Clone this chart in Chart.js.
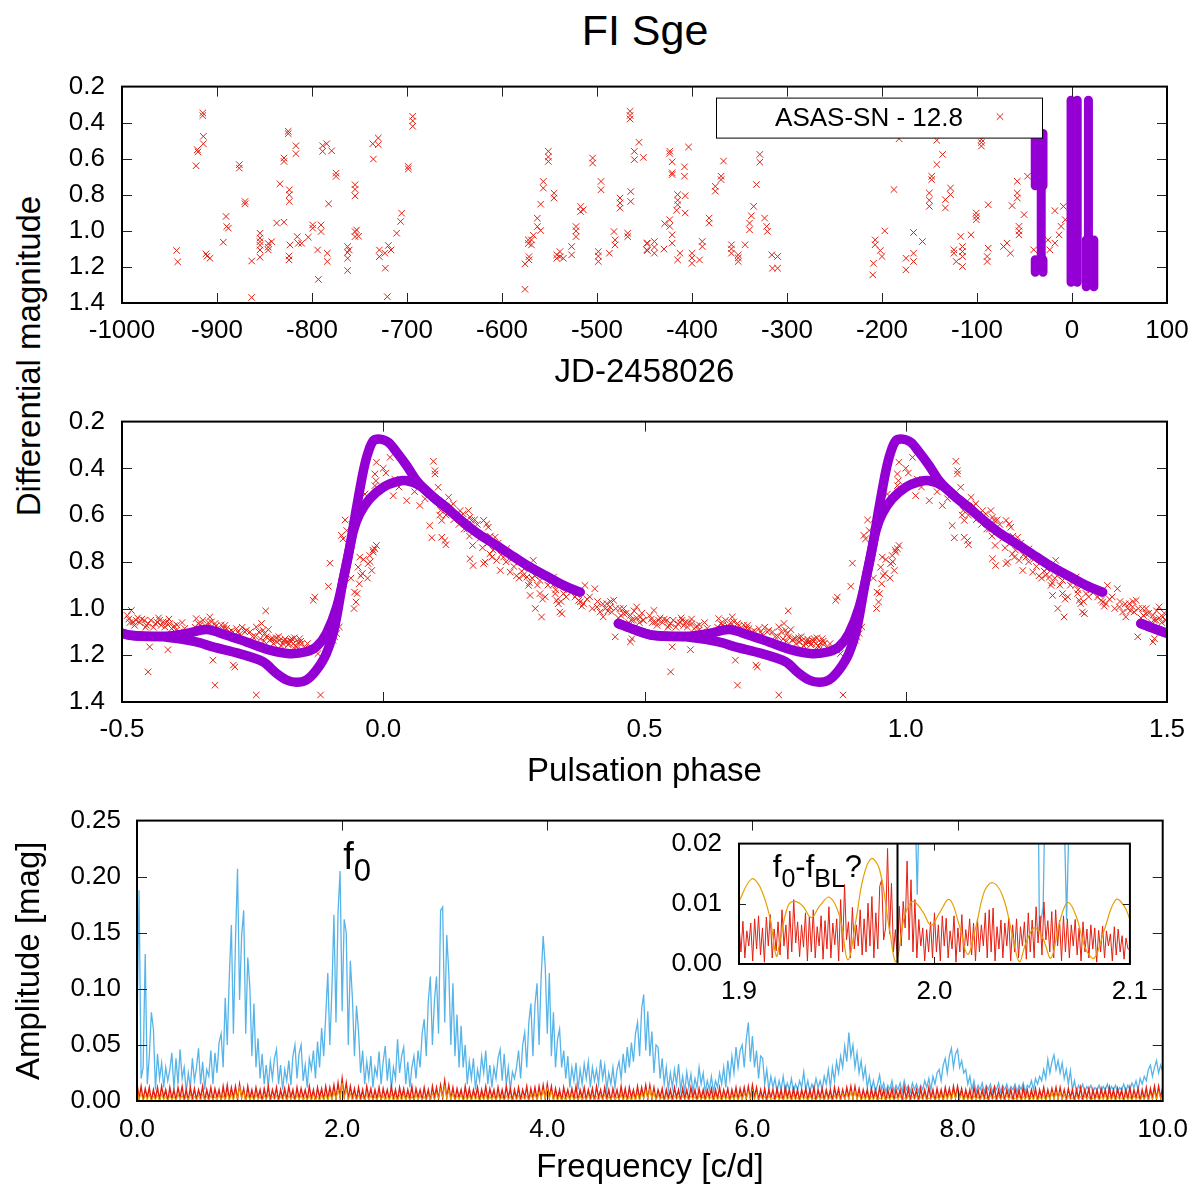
<!DOCTYPE html>
<html>
<head>
<meta charset="utf-8">
<script src="https://cdn.jsdelivr.net/npm/chart.js@4.4.1/dist/chart.umd.min.js"></script>
<style>
  body { margin: 0; background: #fff; width: 1201px; height: 1192px; position: relative; overflow: hidden;
         font-family: "Liberation Sans", Arial, sans-serif; }
  canvas { position: absolute; }
  #title { position: absolute; left: 445px; width: 400px; top: 8px; text-align: center; font-size: 43px; line-height: 44px; }
  #ylab { position: absolute; left: 29px; top: 356px; transform: translate(-50%, -50%) rotate(-90deg);
          white-space: nowrap; font-size: 33px; }
</style>
</head>
<body>
<div id="title">FI Sge</div>
<div id="ylab">Differential magnitude</div>
<canvas id="c1" width="1201" height="339" style="left:0;top:54px"></canvas>
<canvas id="c2" width="1201" height="403" style="left:0;top:389px"></canvas>
<canvas id="c3" width="1201" height="399" style="left:0;top:789px"></canvas>
<canvas id="c4" width="520" height="199" style="left:640px;top:811px"></canvas>
<script>
// ---- panel 1: ASAS-SN light curve (JD-2458026, mag - 12.8)
const asasJD = [-942.5,-941.4,-922,-920.7,-920,-915,-915,-914.4,-914.4,-911.6,-910.5,-907.4,-893.4,-890.5,-889.8,-888,
  -876.5,-876.5,-870.5,-870.5,-863.5,-863.5,-854.7,-854.7,-854.7,-854.7,-854.7,-854.7,-846,-846,-846,-842.5,-837.2,
  -833.7,-829.5,-829.5,-829.5,-825,-825,-824.2,-824.2,-823.9,-823.9,-823.9,-823.2,-816.9,-816.9,-815.5,-814.4,-810.9,
  -803.9,-799.3,-799.3,-794.1,-793.3,-790.5,-790.5,-788.8,-788.8,-784.6,-783.9,-783.9,-782.5,-779.3,-774.7,-774.7,
  -762.5,-762.5,-762.5,-762.5,-760.8,-754.7,-754.7,-754.7,-754.7,-754.7,-753,-751,-736.1,-735.4,-730.2,-730.2,-729.1,
  -729.1,-723.2,-722.8,-720.7,-719.6,-716.8,-710.9,-706.7,-705.6,-698.6,-698.6,-694,-694,-694,
  -575.8,-575.8,-571.6,-571.6,-572.3,-572.3,-569,-569,-567,-562.8,-562.8,-559.3,-559.3,-556.5,-556.5,-551.2,-551.2,
  -551.2,-545.2,-545.2,-542.4,-542.4,-539,-539,-535.4,-526.7,-526.7,-522.1,-522.1,-522.1,-517.2,-517.2,-514.4,-504.6,
  -504.6,-498.6,-498.6,-498.6,-495.8,-495.8,-487,-482.1,-481,-481,-475.8,-475.8,-475.8,-467.7,-467.7,-465.2,-465.2,
  -465.2,-464.5,-464.5,-460.7,-460.7,-455.8,-451.2,-447.7,-447.7,
  -446.8,-446.8,-439.6,-439.6,-439.6,-429.5,-428.8,-423.4,-423.4,-423.4,-423.4,-420.9,-420.9,-420.9,-420.9,-420.9,
  -416.2,-415.1,-415.1,-415.1,-415.1,-412.6,-407.9,-407.9,-407.2,-407.2,-403.6,-400,-400,-400,-392.1,-389.2,-389.2,
  -382,-382,-375.5,-375.5,-369.4,-369.4,-366.8,-358.5,-358.5,-358.5,-351.3,-351.3,-351.3,-344.1,-339.4,-339.4,-337.6,
  -335.1,-332.2,-328.6,-328.6,-323.6,-321.4,-320.7,-316,-315.3,-309.9,-309.9,
  -209,-209.7,-207.2,-207.2,-201.8,-200,-197.1,-187.4,-182,-174.7,-174.7,-166.8,-166.8,-166.8,-157.4,-150.2,-150.2,
  -150.2,-147.7,-147.7,-142.3,-142.3,-136.2,-133.3,-133.3,-127.9,-127.9,-124.3,-124.3,-121.8,-117.1,-115.3,-115.3,
  -115.3,-115.3,-106.3,-100.8,-100.8,-100.8,-95.4,-95.4,-95.4,-88.2,-88.2,-89.3,-89.3,-72,-68.4,-64.8,-63,-57.6,-57.6,
  -57.6,-55.8,-55.8,-55.8,-50.4,-46.8,-40.3,-25.2,-23.4,-18,-18,-13.6,-11.5,-9,-7.1];
const asasMag = [1.109,1.172,0.639,0.55,0.562,0.346,0.361,0.476,0.517,1.128,1.14,1.152,1.063,0.92,0.976,0.985,
  0.633,0.652,0.837,0.85,1.167,1.369,1.013,1.04,1.06,1.08,1.106,1.146,1.07,1.09,1.106,1.06,0.957,
  0.739,0.596,0.615,0.952,0.448,0.461,1.139,1.161,0.772,0.8,0.837,1.078,0.528,0.572,1.032,1.069,1.069,
  1.035,0.967,0.985,1.106,1.269,0.967,1.004,0.528,0.559,0.517,1.124,1.17,0.85,0.556,0.68,0.698,
  1.087,1.12,1.152,1.22,1.106,0.744,0.77,0.806,1.004,1.032,0.995,1.03,0.517,0.602,0.485,0.522,1.106,
  1.143,1.124,1.207,1.365,1.081,1.106,1.013,0.948,0.902,0.643,0.657,0.365,0.39,0.42,
  1.324,1.183,1.143,1.161,1.05,1.07,1.05,1.078,1.025,0.93,0.976,0.852,0.998,0.726,0.763,0.559,0.59,
  0.615,0.791,0.818,1.133,1.152,1.115,1.143,1.152,1.087,1.133,0.976,1.0,1.032,0.865,0.893,0.883,0.596,
  0.624,1.115,1.14,1.17,0.726,0.772,1.124,1.004,1.05,1.078,0.818,0.845,0.874,1.013,1.032,0.337,0.36,
  0.38,0.782,0.837,0.559,0.605,0.509,0.593,1.069,1.106,
  1.068,1.109,1.059,1.09,1.124,1.101,0.96,0.558,0.571,0.938,0.975,0.617,0.678,0.688,1.022,1.068,
  0.886,0.799,0.83,0.855,1.161,1.124,0.645,0.697,0.805,0.901,0.535,1.124,1.15,1.18,1.161,1.059,1.087,
  0.929,0.957,0.753,0.78,0.697,0.716,0.613,1.077,1.1,1.124,1.133,1.15,1.17,1.077,0.957,0.994,0.916,
  0.864,0.743,0.576,0.619,0.929,0.975,1.003,1.133,1.207,1.207,1.142,
  1.18,1.244,1.05,1.077,1.109,1.142,1.0,0.771,0.489,1.152,1.216,1.009,1.124,1.17,1.059,0.79,0.83,
  0.864,0.697,0.716,0.632,0.498,0.576,0.827,0.873,0.762,0.799,1.105,1.124,1.17,1.031,1.087,1.115,
  1.142,1.198,1.022,0.901,0.92,0.938,0.493,0.51,0.53,0.855,1.096,1.142,1.17,1.087,1.068,1.124,0.86,0.725,0.79,
  0.818,0.975,1.0,1.022,0.91,0.697,1.105,1.05,1.105,1.068,0.888,1.022,0.975,0.864,0.938];

// purple (dense follow-up photometry) drawn as vertical bands: JD, top mag, bottom mag
const bandJD     = [-38.7, -30.5, -32.4, -38.7, -30.5, -1.0, 5.5, 17.3, 15.0, 23.0];
const bandTop    = [0.46, 0.46, 0.75, 1.16, 1.16, 0.275, 0.275, 0.275, 1.05, 1.05];
const bandBottom = [0.75, 0.75, 1.16, 1.23, 1.23, 1.285, 1.285, 1.05, 1.31, 1.31];

// ---- panel 2: phased light curve (one cycle, plotted at phase and phase+1)
const phasedPhase = [-0.482,-0.479,-0.476,-0.473,-0.457,-0.453,-0.45,-0.428,-0.425,-0.421,-0.418,-0.409,-0.405,-0.396,
  -0.447,-0.45,-0.412,-0.358,-0.354,-0.332,-0.329,-0.322,-0.303,-0.3,-0.281,-0.278,-0.326,-0.322,-0.287,-0.284,-0.262,
  -0.243,-0.243,-0.233,-0.23,-0.227,-0.225,-0.224,-0.217,-0.211,-0.204,-0.198,-0.192,-0.185,-0.179,-0.172,-0.166,-0.16,
  -0.156,-0.166,-0.134,-0.131,-0.12,-0.125,-0.105,-0.102,-0.096,-0.093,-0.089,-0.084,-0.08,-0.077,-0.073,-0.07,-0.056,
  -0.052,-0.05,-0.046,-0.048,-0.045,-0.029,-0.026,-0.022,-0.019,-0.016,-0.013,-0.035,-0.016,-0.014,-0.016,-0.013,0.013,
  0.019,0.022,0.045,0.07,0.096,0.099,0.099,0.089,0.093,0.112,0.112,0.118,0.12,0.105,0.125,0.134,0.147,0.153,0.163,
  0.166,0.169,0.166,0.172,0.171,0.192,0.198,0.201,0.204,0.208,0.214,0.192,0.195,0.217,0.224,0.236,0.243,0.268,0.275,
  0.278,0.281,0.287,0.291,0.3,0.303,0.326,0.329,0.332,0.335,0.338,0.342,0.345,0.367,0.374,0.377,0.383,0.386,0.405,
  0.409,0.415,0.421,0.428,0.434,0.437,0.441,0.444,0.453,0.46,0.473,0.479,0.485,0.492,0.498,0.473,0.476,
  -0.49,-0.487,-0.466,-0.462,-0.44,-0.436,-0.43,-0.415,-0.4,-0.39,-0.38,-0.37,-0.345,-0.34,-0.315,-0.31,-0.295,-0.27,
  -0.255,-0.25,-0.238,-0.22,-0.21,-0.2,-0.195,-0.188,-0.182,-0.176,-0.17,-0.163,-0.15,
  -0.06,-0.04,-0.03,0.0,0.005,0.03,0.06,0.08,0.108,0.13,0.14,0.155,0.175,0.18,0.2,0.205,0.22,0.23,0.25,0.255,0.26,
  0.27,0.285,0.295,0.31,0.315,0.32,0.35,0.36,0.39,0.4,0.41,0.425,0.445,0.45,0.465,0.47,0.48,0.49,0.495,
  -0.485,-0.47,-0.455,-0.445,-0.432,-0.41,-0.395,-0.385,-0.36,-0.35,-0.335,-0.32,-0.305,-0.29,-0.275,-0.265,-0.245,
  -0.235,-0.228,-0.215,-0.205,-0.19,-0.18,-0.175,-0.168,-0.158,-0.145,-0.14,
  -0.062,-0.055,-0.043,-0.038,-0.025,-0.02,
  0.11,0.12,0.135,0.145,0.16,0.165,0.185,0.19,0.21,0.215,0.225,0.235,0.245,0.26,0.265,0.28,0.29,0.3,0.305,0.325,
  0.33,0.34,0.355,0.37,0.38,0.395,0.42,0.43,0.435,0.455,0.46,0.475,0.485,0.497];
const phasedMag = [1.008,1.057,1.072,1.05,1.05,1.072,1.064,1.05,1.072,1.057,1.079,1.064,1.086,1.093,
  1.164,1.271,1.176,1.043,1.064,1.036,1.057,1.064,1.072,1.086,1.086,1.1,1.221,1.328,1.242,1.25,1.093,
  1.37,1.079,1.064,1.093,1.107,1.01,1.121,1.136,1.129,1.143,1.136,1.15,1.143,1.136,1.15,1.164,1.129,
  1.15,1.178,0.965,0.951,1.37,1.193,0.905,0.806,1.136,1.121,1.107,1.079,0.687,0.702,0.621,0.666,1.0,
  0.972,0.936,0.894,0.823,0.78,0.808,0.773,0.837,0.759,0.744,0.73,0.51,0.424,0.453,0.474,0.374,0.353,
  0.517,0.446,0.538,0.559,0.37,0.41,0.424,0.645,0.697,0.623,0.695,0.709,0.727,0.481,0.524,0.552,0.581,0.595,0.581,
  0.609,0.623,0.787,0.816,0.73,0.623,0.638,0.652,0.766,0.78,0.695,0.808,0.801,0.794,0.837,0.744,0.844,0.858,0.865,
  0.901,0.944,0.794,1.0,0.936,1.036,0.865,0.936,0.965,0.979,1.015,1.022,0.936,0.951,0.965,0.972,0.979,0.901,0.915,
  0.993,1.015,1.036,0.979,0.993,1.015,0.965,1.121,1.0,1.022,1.029,1.05,0.993,1.036,1.05,1.143,1.129,
  1.03,1.045,1.06,1.045,1.08,1.065,1.04,1.06,1.075,1.1,1.085,1.11,1.05,1.075,1.09,1.07,1.1,1.08,
  1.1,1.12,1.1,1.09,1.15,1.12,1.16,1.13,1.155,1.14,1.125,1.145,1.17,
  0.64,0.85,0.87,0.4,0.42,0.48,0.5,0.53,0.6,0.56,0.6,0.66,0.62,0.64,0.72,0.69,0.72,0.78,0.82,0.86,0.8,
  0.83,0.87,0.9,0.95,0.9,0.88,0.95,0.93,0.96,1.0,0.97,1.0,1.0,1.04,1.02,1.06,1.01,1.06,1.02,
  1.06,1.04,1.08,1.05,1.06,1.045,1.07,1.06,1.08,1.07,1.06,1.075,1.085,1.095,1.11,1.1,1.12,
  1.13,1.14,1.13,1.125,1.14,1.15,1.13,1.16,1.14,1.15,1.18,
  0.87,0.93,0.86,0.79,0.8,0.75,
  0.58,0.6,0.62,0.64,0.66,0.69,0.7,0.74,0.75,0.73,0.77,0.8,0.79,0.87,0.84,0.89,0.86,0.88,0.96,0.9,
  0.92,0.97,0.92,0.94,0.99,0.95,0.98,1.01,0.97,1.03,1.0,1.05,1.04,1.05];

// purple dense branches (high and low amplitude), phase/mag
const branchHPhase = [-0.55,-0.52,-0.485,-0.421,-0.358,-0.326,-0.275,-0.23,-0.204,-0.185,-0.166,-0.147,-0.128,-0.109,
  -0.093,-0.077,-0.064,-0.051,-0.038,-0.029,-0.019,-0.006,0.01,0.026,0.045,0.064,0.089,0.121,0.153,0.185,0.217,0.249,
  0.281,0.313,0.345,0.377];
const branchHMag = [1.064,1.09,1.114,1.121,1.143,1.164,1.193,1.228,1.278,1.306,1.316,1.306,1.264,1.193,
  1.079,0.88,0.737,0.567,0.41,0.332,0.282,0.275,0.289,0.332,0.389,0.453,0.51,0.569,0.63,0.685,0.73,0.777,
  0.823,0.862,0.901,0.93];
const branchLPhase = [-0.55,-0.52,-0.485,-0.421,-0.377,-0.338,-0.3,-0.262,-0.217,-0.179,-0.147,-0.128,-0.109,-0.089,
  -0.07,-0.057,-0.045,-0.026,0.0,0.026,0.045,0.07,0.096,0.121];
const branchLMag = [1.064,1.09,1.114,1.119,1.107,1.09,1.114,1.143,1.178,1.193,1.185,1.164,1.107,0.993,
  0.808,0.666,0.595,0.531,0.481,0.457,0.453,0.474,0.524,0.569];

// ---- panel 3: amplitude spectra, 0..10 c/d every 0.02 c/d, values in mmag
const freqStep = 0.02;
const blueAmp = [
  60,188,20,30,131,15,40,79,64,10,42,20,34,12,30,18,28,43,10,38,15,46,20,30,8,25,12,38,18,30,47,15,35,10,28,22,45,15,43,25,52,60,30,92,50,111,157,60,142,207,
  90,147,170,60,128,102,40,87,30,56,20,42,15,32,12,35,20,38,46,15,32,10,28,18,36,14,40,50,20,42,50,18,32,12,38,28,45,20,53,30,65,40,76,114,50,98,166,70,168,205,
  80,162,150,50,125,92,40,85,62,25,45,15,35,20,40,12,30,22,44,15,35,49,18,38,10,30,20,55,25,40,48,15,35,12,30,40,20,45,30,60,73,40,89,111,50,90,111,60,170,173,
  70,148,114,50,105,40,77,30,67,30,50,15,35,20,38,10,28,18,40,25,45,15,32,12,30,20,38,46,18,42,14,30,10,26,20,30,45,20,50,61,30,70,87,40,86,105,50,110,147,120,
  60,114,40,79,30,55,64,30,45,20,40,12,30,18,34,10,28,15,33,20,35,12,30,18,28,15,37,20,32,10,25,15,30,12,28,35,20,42,25,48,30,52,35,60,70,40,82,95,45,80,
  40,62,25,50,48,20,38,15,30,10,25,12,28,15,33,10,22,8,26,12,24,8,20,12,30,15,25,8,18,10,22,8,18,12,25,15,30,12,36,20,40,25,48,30,45,50,30,55,70,35,
  58,30,45,20,40,38,15,28,10,22,12,20,8,18,10,22,8,16,10,20,8,15,10,18,12,26,10,18,8,15,10,20,12,18,10,22,15,28,12,30,18,35,25,40,30,49,35,61,40,50,
  30,43,25,36,20,30,12,22,10,18,8,15,23,10,16,8,14,10,18,8,14,10,16,8,18,10,14,8,16,10,15,8,14,10,18,12,20,10,22,15,25,28,18,32,38,25,40,47,30,42,
  46,30,36,25,28,15,22,10,18,8,14,10,16,8,14,10,15,8,13,10,16,8,14,10,15,8,13,10,15,8,14,10,16,8,14,12,18,10,20,15,22,18,28,20,37,25,35,41,28,36,
  25,34,20,28,15,27,10,18,8,14,10,15,8,13,10,14,8,12,10,14,8,13,10,15,8,13,10,14,8,12,10,15,8,14,10,16,12,18,10,20,15,22,18,28,32,22,30,36,25,32,
  26];
const redAmp = [
  16,2,13,1,11,3,12,0,10,2,12,1,13,3,10,0,12,2,10,1,12,3,13,1,10,0,12,2,11,1,10,3,13,0,10,2,12,1,11,3,10,0,13,2,14,1,12,3,13,1,
  15,3,11,0,13,2,10,1,12,3,10,0,11,2,13,1,10,3,12,0,10,2,11,1,13,3,10,0,12,2,11,3,10,1,13,2,10,0,12,3,11,1,13,2,12,3,14,2,16,3,
  20,4,16,2,13,3,11,1,12,2,10,0,13,3,11,1,10,2,12,0,11,3,10,1,13,2,10,0,12,3,11,1,10,2,13,0,11,3,10,1,12,2,10,0,13,3,12,2,14,3,
  18,3,14,2,12,1,11,3,10,0,13,2,11,1,10,3,12,0,10,2,13,1,11,3,10,0,12,2,10,1,13,3,11,0,10,2,12,1,10,3,13,0,11,2,12,1,13,3,14,2,
  15,3,13,1,11,2,10,0,12,3,10,1,11,2,13,0,10,3,12,1,10,2,11,0,13,3,10,1,12,2,10,0,11,3,10,1,13,2,11,0,12,3,10,1,13,2,12,3,14,2,
  14,2,12,1,10,3,11,0,10,2,10,1,12,3,10,0,11,2,10,1,12,3,10,0,11,2,10,1,10,3,11,0,10,2,12,1,10,3,11,0,10,2,12,1,11,3,12,2,13,2,
  14,3,12,1,10,2,11,0,10,3,10,1,11,2,10,0,12,3,10,1,11,2,10,0,10,3,11,1,10,2,12,0,10,3,11,1,10,2,10,0,12,3,11,1,10,2,12,3,13,2,
  13,2,11,1,10,3,10,0,11,2,10,1,12,3,10,0,10,2,11,1,10,3,10,0,12,2,11,1,10,3,10,0,11,2,10,1,12,3,10,0,11,2,10,1,12,3,11,2,13,3,
  13,3,11,1,10,2,10,0,12,3,10,1,10,2,11,0,10,3,12,1,10,2,11,0,10,3,10,1,11,2,10,0,12,3,10,1,10,2,11,0,10,3,12,1,10,2,11,3,12,2,
  12,2,10,1,11,3,10,0,10,2,12,1,10,3,11,0,10,2,10,1,11,3,10,0,12,2,10,1,11,3,10,0,10,2,12,1,10,3,11,0,10,2,12,1,11,3,13,2,13,3,
  12];
const orangeAmp = [
  11,1,7,0,5,1,6,0,4,1,5,0,6,1,4,0,5,1,4,0,6,1,5,0,4,1,6,0,4,1,5,0,6,1,4,0,5,1,4,0,6,1,5,0,7,1,6,0,8,2,
  13,2,8,0,6,1,5,0,6,1,4,0,5,1,6,0,4,1,5,0,4,1,6,0,5,1,4,0,6,1,5,0,4,1,5,0,6,1,4,0,5,1,6,0,7,1,8,2,10,3,
  16,3,11,1,7,0,6,1,5,0,4,1,6,0,5,1,4,0,6,1,5,0,4,1,6,0,4,1,5,0,6,1,5,0,4,1,6,0,5,1,4,0,6,1,7,0,8,2,11,3,
  14,2,10,1,7,0,5,1,6,0,4,1,5,0,6,1,4,0,5,1,6,0,4,1,5,0,6,1,4,0,5,1,4,0,6,1,5,0,4,1,5,0,6,1,7,0,8,2,10,2,
  12,2,9,1,6,0,5,1,4,0,5,1,6,0,4,1,5,0,4,1,6,0,5,1,4,0,5,1,6,0,4,1,5,0,4,1,6,0,5,1,4,0,5,1,7,0,7,2,10,2,
  11,2,8,0,6,1,4,0,5,1,4,0,5,1,4,0,5,1,4,0,5,1,4,0,5,1,4,0,5,1,4,0,5,1,4,0,5,1,4,0,5,1,6,0,6,1,7,2,9,2,
  10,1,8,0,5,1,4,0,5,1,3,0,5,1,4,0,6,1,4,0,5,1,3,0,5,1,4,0,5,1,3,0,5,1,4,0,6,1,4,0,5,1,6,0,7,1,7,1,9,2,
  9,1,7,0,4,1,5,0,4,1,5,0,3,1,5,0,4,1,5,0,4,1,6,0,3,1,5,0,4,1,5,0,4,1,6,0,3,1,5,0,4,1,6,0,6,1,7,1,8,2,
  9,2,6,0,5,1,4,0,5,1,4,0,6,1,3,0,5,1,4,0,5,1,4,0,6,1,4,0,3,1,5,0,4,1,5,0,4,1,6,0,4,1,5,0,6,1,8,1,8,2,
  8,1,7,0,5,1,3,0,5,1,4,0,5,1,4,0,3,1,5,0,4,1,6,0,4,1,5,0,4,1,3,0,5,1,4,0,5,1,4,0,5,1,6,0,7,1,8,2,9,2,
  8];

// ---- inset: 1.90..2.10 c/d, red every 0.001 c/d (mmag)
const insetStep = 0.001;
const insetRed = [
  6.5,2,7.1,1,5.5,3,6.8,0.5,7.5,2.5,8,1.5,6,0.3,7.8,3,8.2,1,5.8,2.2,7,
  1.5,9,3,6.5,0.8,8.8,2,10.7,3.5,7,1.2,6.5,2.8,8.5,0.5,7.9,2,9,1,6.2,
  3,8,0.8,7.2,2.5,9.5,1,6.8,3.2,7.5,0.5,10.7,2,13.2,4,7,1,9.4,2.5,6.5,
  3,9,1.5,7.5,2,10.1,3,11.2,1,8.5,2.5,12.9,14,4,6,19.2,5,13.4,2,5.7,
  1,9.6,3,10.4,6,17.1,4,14,2,10.7,1,7.4,3,6,0.5,5.7,2,7,1,8.5,
  2,6.5,0.5,8,3,7.6,1,5.5,2.5,8,0.3,6,2,8.2,1,5.7,3,7.5,1.5,6.8,
  0.5,7.5,2,6.5,3,8.5,1,9,2,9.3,0.5,6.2,2.5,7.3,1,6.8,3,7.6,0.5,6.5,
  2,7.5,1,6.2,3,7,0.8,8.5,2,7.3,1,9.5,3.5,8,1.5,10.3,4,7.2,2,8.7,
  1,9,3,7.3,0.5,8,2,7.5,1,6.5,3,7.4,1.5,6,0.5,7,2,5.8,1,6.5,
  2.5,6,0.3,5.6,2,6.3,1,5.5,3,5,0.5,6.2,1.5,5.8,2,4.7,0.8,4.3,2.5,2.4];
// inset orange (short data set, broad side lobes): freq / mmag
const insetOrangeF = [1.9,1.9063,1.9106,1.9157,1.9191,1.9208,1.925,1.9285,1.9327,1.937,1.9412,1.9463,1.9515,1.9557,
  1.9599,1.9634,1.9676,1.9719,1.977,1.9804,1.9847,1.9889,1.994,1.9983,2.0026,2.0077,2.0128,2.017,2.0213,2.0256,2.0298,
  2.0349,2.04,2.0434,2.0468,2.0511,2.0554,2.0596,2.0639,2.0681,2.0724,2.0775,2.0818,2.0869,2.0928,2.0971,2.1];
const insetOrangeA = [10.4,14.1,12.9,7.9,1.3,3.5,9.6,10.4,9.6,7.7,9.6,11.1,7.9,0.7,
  7.4,14.1,17.5,15.7,5.7,0.4,7.9,10.4,8.7,6.4,8.5,10.7,6.3,1.6,6.3,12.1,13.5,
  11.3,4.6,0.4,3.5,6.0,4.3,1.0,6.8,10.2,8.0,2.4,1.0,5.7,10.7,9.6,7.4];
// inset blue: only the dips below 0.02 mag are visible (freq / mmag)
const insetBlueF = [1.9898, 1.9912, 1.9924, null, 2.0530, 2.0537, 2.0556, 2.0567, null, 2.0660, 2.0676, 2.0693];
const insetBlueA = [30, 11.5, 30, null, 30, 5.5, 9.5, 30, null, 30, 7.4, 30];
const fblFreq = 1.981;

// ---------------------------------------------------------------
const FONT = '"Liberation Sans", Arial, sans-serif';
const RED = '#e51e10', PURPLE = '#9400d3', BLUE = '#56b4e9', ORANGE = '#e69f00';
Chart.defaults.font.family = FONT;
Chart.defaults.color = '#000';

function fmt(v, d) {
  if (Math.abs(v) < 1e-9) v = 0;
  return Number(v).toFixed(d);
}
function pts(xs, ys, dx) {
  return xs.map((x, i) => ({x: x === null ? null : x + (dx || 0), y: ys[i]}));
}
function spectrum(arr, step, start) {
  return arr.map((v, i) => ({x: start + i * step, y: v / 1000}));
}

// frame and gnuplot-like inward ticks on all four sides
const frameTicks = {
  id: 'frameTicks',
  afterDraw(chart, args, opts) {
    const {ctx, chartArea: a, scales: {x, y}} = chart;
    const len = opts.len || 10;
    ctx.save();
    ctx.strokeStyle = '#222';
    ctx.lineWidth = 1;
    ctx.beginPath();
    x.ticks.forEach(t => {
      const px = Math.round(x.getPixelForValue(t.value)) + 0.5;
      if (px < a.left + 2 || px > a.right - 2) return;
      ctx.moveTo(px, a.bottom); ctx.lineTo(px, a.bottom - len);
      ctx.moveTo(px, a.top); ctx.lineTo(px, a.top + len);
    });
    y.ticks.forEach(t => {
      const py = Math.round(y.getPixelForValue(t.value)) + 0.5;
      if (py < a.top + 2 || py > a.bottom - 2) return;
      ctx.moveTo(a.left, py); ctx.lineTo(a.left + len, py);
      ctx.moveTo(a.right, py); ctx.lineTo(a.right - len, py);
    });
    ctx.stroke();
    ctx.strokeStyle = '#000';
    ctx.lineWidth = 2;
    ctx.strokeRect(a.left, a.top, a.right - a.left, a.bottom - a.top);
    ctx.restore();
  }
};

function drawLabel(ctx, parts, x, y, big, small) {
  let cx = x;
  ctx.fillStyle = '#000';
  ctx.textBaseline = 'alphabetic';
  ctx.textAlign = 'left';
  parts.forEach(([t, sub]) => {
    ctx.font = (sub ? small : big) + 'px ' + FONT;
    ctx.fillText(t, cx, sub ? y + Math.round(big * 0.32) : y);
    cx += ctx.measureText(t).width;
  });
}

function options(c) {
  return {
    responsive: false,
    animation: false,
    events: [],
    layout: {padding: c.padding, autoPadding: false},
    plugins: {legend: {display: false}, tooltip: {enabled: false}, frameTicks: {len: c.tickLen || 10}},
    scales: {
      x: {
        type: 'linear', min: c.xmin, max: c.xmax,
        grid: {display: false, drawTicks: false}, border: {display: false},
        ticks: {stepSize: c.xstep, autoSkip: false, maxRotation: 0, padding: c.xpad,
                font: {size: 26}, color: '#000', callback: v => fmt(v, c.xdec)},
        title: c.xtitle ? {display: true, text: c.xtitle, font: {size: 33}, color: '#000', padding: 0} : {display: false},
        afterFit: s => { s.height = c.xh; }
      },
      y: {
        type: 'linear', min: c.ymin, max: c.ymax, reverse: !!c.reverse,
        grid: {display: false, drawTicks: false}, border: {display: false},
        ticks: {stepSize: c.ystep, autoSkip: false, padding: c.ypad,
                font: {size: 26}, color: '#000', callback: v => fmt(v, c.ydec)},
        title: c.ytitle ? {display: true, text: c.ytitle, font: {size: 33}, color: '#000', padding: {top: 10}} : {display: false},
        afterFit: s => { s.width = c.yw; }
      }
    }
  };
}

function crosses(data) {
  return {data, pointStyle: 'crossRot', pointRadius: 4.6, borderColor: RED, pointBorderColor: RED,
          backgroundColor: RED, pointBackgroundColor: RED, borderWidth: 1, pointBorderWidth: 1, order: 1};
}

// ---- panel 1
const bandSets = bandJD.map((jd, i) => ({
  data: [{x: jd, y: bandTop[i]}, {x: jd, y: bandBottom[i]}],
  showLine: true, borderColor: PURPLE, borderWidth: 9, borderCapStyle: 'round',
  pointRadius: 0, clip: 0, order: 0
}));
const legendBox = {
  id: 'legendBox',
  afterDraw(chart) {
    const {ctx, chartArea: a} = chart;
    ctx.save();
    ctx.strokeStyle = '#000'; ctx.lineWidth = 1;
    ctx.fillStyle = '#fff';
    ctx.fillRect(a.left + 594.5, a.top + 11.5, 326, 40);
    ctx.strokeRect(a.left + 594.5, a.top + 11.5, 326, 40);
    ctx.fillStyle = '#000';
    ctx.font = '26px ' + FONT;
    ctx.textAlign = 'center'; ctx.textBaseline = 'middle';
    ctx.fillText('ASAS-SN - 12.8', a.left + 747, a.top + 32);
    const mx = a.left + 878, my = a.top + 30, r = 3.3;
    ctx.strokeStyle = RED;
    ctx.beginPath();
    ctx.moveTo(mx - r, my - r); ctx.lineTo(mx + r, my + r);
    ctx.moveTo(mx - r, my + r); ctx.lineTo(mx + r, my - r);
    ctx.stroke();
    ctx.restore();
  }
};
new Chart(document.getElementById('c1'), {
  type: 'scatter',
  data: {datasets: [...bandSets, crosses(pts(asasJD, asasMag))]},
  options: options({padding: {top: 0, right: 34, left: 0, bottom: 0}, xmin: -1000, xmax: 100, xstep: 100, xdec: 0,
    xpad: 12, xh: 90, xtitle: 'JD-2458026', ymin: 0.2, ymax: 1.4, ystep: 0.2, ydec: 1, reverse: true, ypad: 17, yw: 122}),
  plugins: [frameTicks, legendBox]
});

// ---- panel 2
const shifts = [0, 1, 2];
const branchSets = [];
shifts.forEach(s => {
  [[branchHPhase, branchHMag], [branchLPhase, branchLMag]].forEach(([p, m]) => {
    branchSets.push({data: pts(p, m, s), showLine: true, borderColor: PURPLE, borderWidth: 9.5,
      borderCapStyle: 'round', borderJoinStyle: 'round', tension: 0.3, pointRadius: 0, clip: 0, order: 0});
  });
});
new Chart(document.getElementById('c2'), {
  type: 'scatter',
  data: {datasets: [...branchSets,
    crosses(pts(phasedPhase, phasedMag).concat(pts(phasedPhase, phasedMag, 1)))]},
  options: options({padding: {top: 0, right: 34, left: 0, bottom: 0}, xmin: -0.5, xmax: 1.5, xstep: 0.5, xdec: 1,
    xpad: 12, xh: 90, xtitle: 'Pulsation phase', ymin: 0.2, ymax: 1.4, ystep: 0.2, ydec: 1, reverse: true, ypad: 17, yw: 122}),
  plugins: [frameTicks]
});

// ---- panel 3
const f0Label = {
  id: 'f0Label',
  afterDraw(chart) {
    const {ctx, scales: {x, y}} = chart;
    ctx.save();
    drawLabel(ctx, [['f', false], ['0', true]], x.getPixelForValue(2.01), y.getPixelForValue(0.207), 38, 31);
    ctx.restore();
  }
};
new Chart(document.getElementById('c3'), {
  type: 'scatter',
  data: {datasets: [
    {data: spectrum(orangeAmp, freqStep, 0), showLine: true, borderColor: ORANGE, borderWidth: 1, pointRadius: 0, clip: 0, order: 0},
    {data: spectrum(redAmp, freqStep, 0), showLine: true, borderColor: RED, borderWidth: 1.4, pointRadius: 0, clip: 0, order: 1},
    {data: spectrum(blueAmp, freqStep, 0), showLine: true, borderColor: BLUE, borderWidth: 1.3, pointRadius: 0, clip: 0, order: 2}
  ]},
  options: options({padding: {top: 0, right: 34, left: 0, bottom: 0}, xmin: 0, xmax: 10, xstep: 2, xdec: 1,
    xpad: 13, xh: 87, xtitle: 'Frequency [c/d]', ymin: 0, ymax: 0.25, ystep: 0.05, ydec: 2, ypad: 16, yw: 137,
    ytitle: 'Amplitude [mag]'}),
  plugins: [frameTicks, f0Label]
});

// ---- inset
const insetDeco = {
  id: 'insetDeco',
  beforeDraw(chart) {
    const {ctx, chartArea: a} = chart;
    ctx.save();
    ctx.fillStyle = '#fff';
    ctx.fillRect(a.left, a.top, a.right - a.left, a.bottom - a.top);
    ctx.restore();
  },
  afterDraw(chart) {
    const {ctx, chartArea: a, scales: {x, y}} = chart;
    ctx.save();
    const px = Math.round(x.getPixelForValue(fblFreq)) + 0.5;
    ctx.strokeStyle = '#000'; ctx.lineWidth = 2;
    ctx.beginPath(); ctx.moveTo(px, a.top); ctx.lineTo(px, a.bottom); ctx.stroke();
    drawLabel(ctx, [['f', false], ['0', true], ['-f', false], ['BL', true], ['?', false]],
      x.getPixelForValue(1.9173), y.getPixelForValue(0.0145), 31, 25);
    ctx.restore();
  }
};
new Chart(document.getElementById('c4'), {
  type: 'scatter',
  data: {datasets: [
    {data: pts(insetOrangeF, insetOrangeA.map(v => v / 1000)), showLine: true, borderColor: ORANGE, borderWidth: 1.2,
     tension: 0.4, pointRadius: 0, clip: 0, order: 0},
    {data: spectrum(insetRed, insetStep, 1.9), showLine: true, borderColor: RED, borderWidth: 1, pointRadius: 0, clip: 0, order: 1},
    {data: pts(insetBlueF, insetBlueA.map(v => v === null ? null : v / 1000)), showLine: true, spanGaps: false,
     borderColor: BLUE, borderWidth: 1.3, pointRadius: 0, clip: 0, order: 2}
  ]},
  options: options({padding: {top: 0, right: 29, left: 0, bottom: 0}, xmin: 1.9, xmax: 2.1, xstep: 0.1, xdec: 1,
    xpad: 12, xh: 46, ymin: 0, ymax: 0.02, ystep: 0.01, ydec: 2, ypad: 17, yw: 99, tickLen: 7}),
  plugins: [frameTicks, insetDeco]
});
</script>
</body>
</html>
